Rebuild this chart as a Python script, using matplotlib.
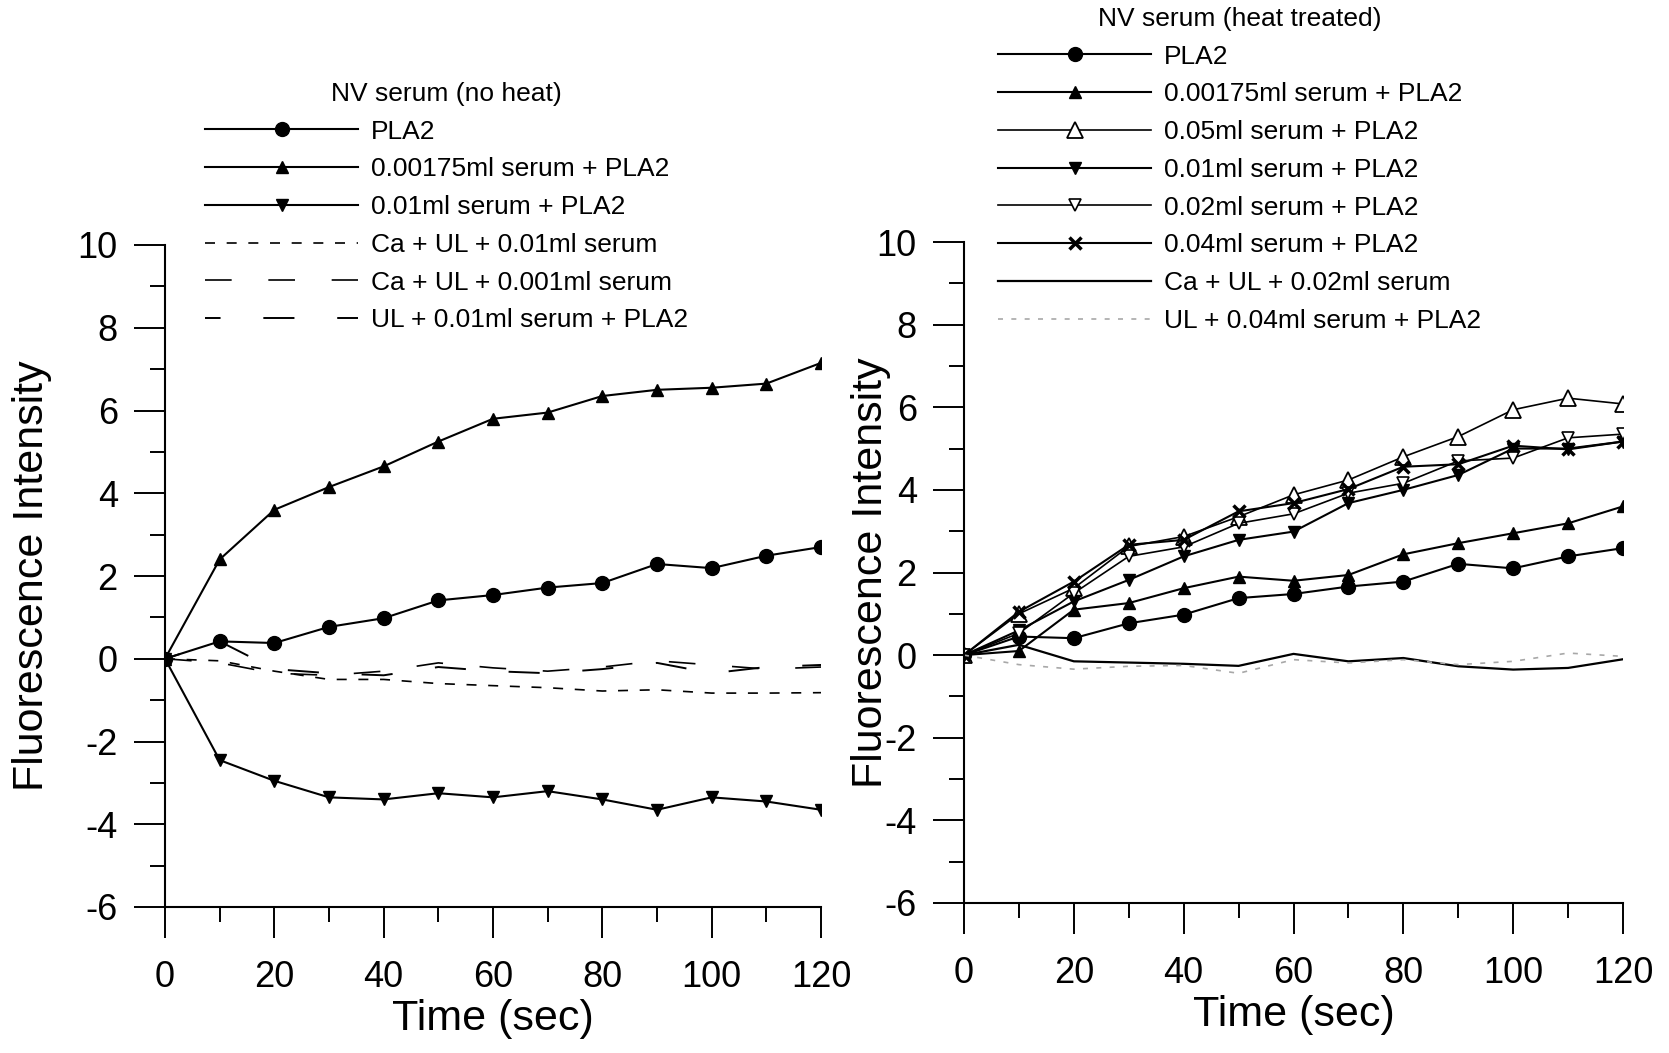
import matplotlib
matplotlib.use("Agg")
import matplotlib.pyplot as plt
from matplotlib.ticker import MultipleLocator

plt.rcParams['font.family'] = ['Liberation Sans', 'DejaVu Sans']
plt.rcParams['axes.unicode_minus'] = False

time = [0, 10, 20, 30, 40, 50, 60, 70, 80, 90, 100, 110, 120]

# Left panel: NV serum (no heat)
left_pla2 = [0, 0.42, 0.38, 0.77, 0.98, 1.41, 1.54, 1.72, 1.83, 2.29, 2.19, 2.49, 2.70]
left_s00175 = [0, 2.40, 3.60, 4.15, 4.65, 5.25, 5.80, 5.95, 6.35, 6.50, 6.55, 6.65, 7.15]
left_s001 = [0, -2.45, -2.95, -3.35, -3.40, -3.25, -3.35, -3.20, -3.40, -3.65, -3.35, -3.45, -3.65]
left_ca_ul_001 = [0, -0.05, -0.30, -0.50, -0.50, -0.60, -0.65, -0.70, -0.78, -0.75, -0.83, -0.83, -0.82]
left_ca_ul_0001 = [0, -0.10, -0.35, -0.40, -0.30, -0.10, -0.22, -0.30, -0.20, -0.05, -0.15, -0.25, -0.20]
left_ul_001_pla2 = [0, 0.42, -0.25, -0.35, -0.40, -0.20, -0.30, -0.35, -0.25, -0.10, -0.35, -0.20, -0.15]

# Right panel: NV serum (heat treated)
right_pla2 = [0, 0.45, 0.41, 0.77, 0.98, 1.38, 1.48, 1.66, 1.78, 2.21, 2.10, 2.39, 2.59]
right_s00175 = [0, 0.10, 1.10, 1.26, 1.62, 1.90, 1.80, 1.94, 2.44, 2.71, 2.95, 3.19, 3.60]
right_s005 = [0, 1.00, 1.62, 2.63, 2.87, 3.35, 3.88, 4.24, 4.80, 5.29, 5.94, 6.22, 6.08]
right_s001 = [0, 0.60, 1.30, 1.82, 2.39, 2.79, 2.99, 3.68, 4.00, 4.36, 5.00, 5.00, 5.17]
right_s002 = [0, 0.53, 1.50, 2.39, 2.62, 3.19, 3.42, 3.92, 4.16, 4.70, 4.77, 5.26, 5.35]
right_s004 = [0, 1.05, 1.78, 2.67, 2.79, 3.48, 3.68, 4.02, 4.56, 4.62, 5.07, 4.98, 5.17]
right_ca_ul_002 = [0, 0.25, -0.15, -0.18, -0.21, -0.26, 0.03, -0.15, -0.07, -0.27, -0.35, -0.31, -0.10]
right_ul_004_pla2 = [0, -0.23, -0.34, -0.27, -0.25, -0.44, -0.11, -0.19, -0.11, -0.23, -0.15, 0.05, -0.03]

W, H = 1669, 1053
fig = plt.figure(figsize=(W / 100, H / 100), dpi=100)
axL = fig.add_axes([165 / W, 1 - 907 / H, 656 / W, 662 / H])
axR = fig.add_axes([964 / W, 1 - 903 / H, 659 / W, 661 / H])

k = 'black'
lw = 1.5
axL.plot(time, left_pla2, color=k, lw=lw, marker='o', ms=10, label='PLA2')
axL.plot(time, left_s00175, color=k, lw=lw, marker='^', ms=9, label='0.00175ml serum + PLA2')
axL.plot(time, left_s001, color=k, lw=lw, marker='v', ms=9, label='0.01ml serum + PLA2')
axL.plot(time, left_ca_ul_001, color=k, lw=1.2, linestyle=(0, (6, 7)), label='Ca + UL + 0.01ml serum')
axL.plot(time, left_ca_ul_0001, color=k, lw=1.2, linestyle=(0, (16, 22)), label='Ca + UL + 0.001ml serum')
axL.plot(time, left_ul_001_pla2, color=k, lw=1.4, linestyle=(8, (16, 22)), label='UL + 0.01ml serum + PLA2')

axR.plot(time, right_pla2, color=k, lw=lw, marker='o', ms=10, label='PLA2')
axR.plot(time, right_s00175, color=k, lw=lw, marker='^', ms=9, label='0.00175ml serum + PLA2')
axR.plot(time, right_s005, color=k, lw=1.2, marker='^', ms=11, mfc='white', mec=k, mew=1.3, label='0.05ml serum + PLA2')
axR.plot(time, right_s001, color=k, lw=lw, marker='v', ms=9, label='0.01ml serum + PLA2')
axR.plot(time, right_s002, color=k, lw=1.2, marker='v', ms=8, mfc='white', mec=k, mew=1.2, label='0.02ml serum + PLA2')
axR.plot(time, right_s004, color=k, lw=lw, marker='x', ms=9, mew=2.5, label='0.04ml serum + PLA2')
axR.plot(time, right_ca_ul_002, color=k, lw=1.6, label='Ca + UL + 0.02ml serum')
axR.plot(time, right_ul_004_pla2, color='#a8a8a8', lw=1.2, linestyle=(0, (3, 5)), label='UL + 0.04ml serum + PLA2')

for ax in (axL, axR):
    ax.set_xlim(0, 120)
    ax.set_ylim(-6, 10)
    ax.xaxis.set_major_locator(MultipleLocator(20))
    ax.xaxis.set_minor_locator(MultipleLocator(10))
    ax.yaxis.set_major_locator(MultipleLocator(2))
    ax.yaxis.set_minor_locator(MultipleLocator(1))
    ax.spines['top'].set_visible(False)
    ax.spines['right'].set_visible(False)
    ax.spines['left'].set_linewidth(1.5)
    ax.spines['bottom'].set_linewidth(1.5)
    ax.tick_params(which='major', direction='out', length=22, width=1.4, labelsize=26)
    ax.tick_params(which='minor', direction='out', length=11, width=1.4)
    ax.tick_params(axis='y', which='major', pad=12)
    ax.tick_params(axis='x', which='major', pad=16)
    ax.set_xlabel('Time (sec)', fontsize=31, va='center')
    ax.set_ylabel('Fluorescence Intensity', fontsize=31, va='center')
    ax.xaxis.set_label_coords(0.5, -0.169)

axL.yaxis.set_label_coords(-133 / 656, 0.5)
axR.yaxis.set_label_coords(-93 / 659, 0.5)

leg_kw = dict(loc='upper left', frameon=False, fontsize=19, title_fontsize=19,
              handlelength=5.8, handletextpad=0.5, labelspacing=0.52,
              numpoints=1, borderpad=0, borderaxespad=0, bbox_transform=fig.transFigure)
axL.legend(title='NV serum (no heat)', bbox_to_anchor=(205 / W, 1 - 82 / H), **leg_kw)
axR.legend(title='NV serum (heat treated)', bbox_to_anchor=(998 / W, 1 - 7 / H), **leg_kw)

fig.savefig('out.png', dpi=100, facecolor='white')
